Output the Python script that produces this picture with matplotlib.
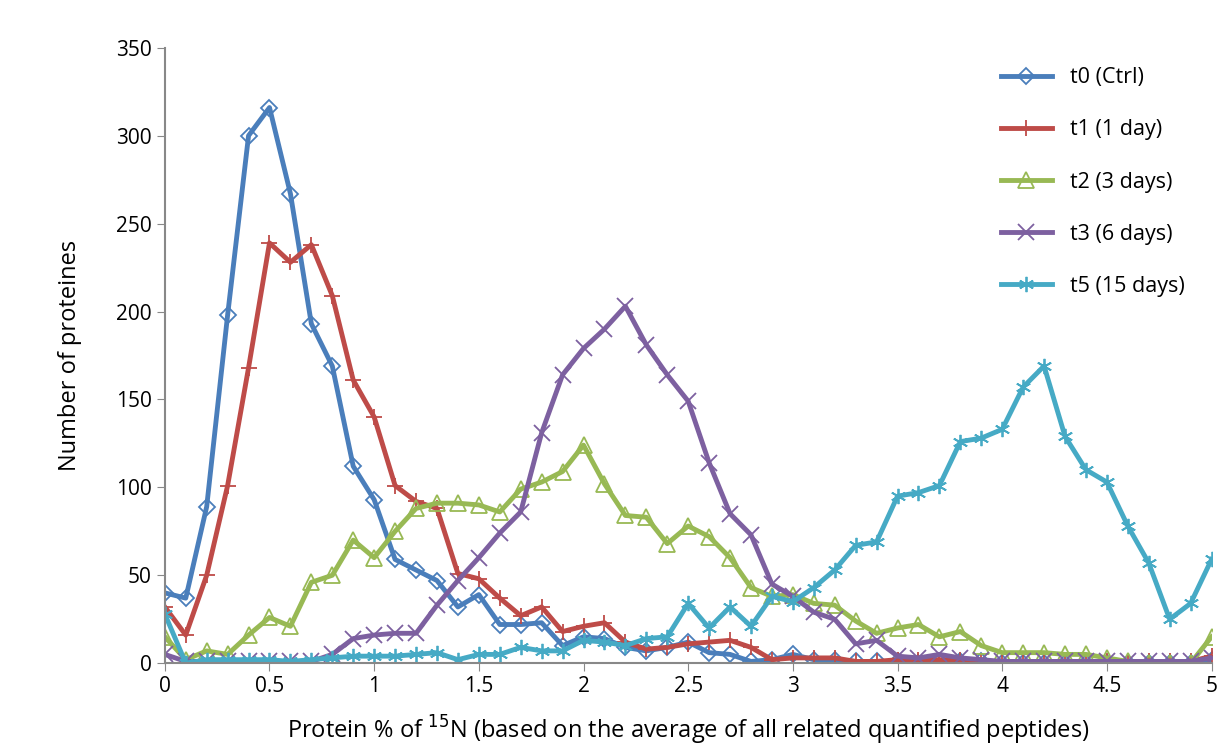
import numpy as np
import matplotlib.pyplot as plt

x = np.round(np.arange(0, 5.01, 0.1), 1)

t0 = [40, 37, 89, 198, 300, 316, 267, 193, 169, 112, 93, 59, 53, 47, 32, 39, 22, 22, 23, 10,
      15, 14, 9, 7, 9, 12, 6, 5, 1, 2, 5, 2, 2, 1, 1, 1, 0, 1, 1, 1, 0, 0, 0, 0, 0, 0, 0, 0, 0, 0, 2]
t1 = [32, 16, 50, 101, 168, 239, 228, 238, 209, 161, 140, 101, 92, 88, 51, 48, 37, 27, 32, 18,
      21, 23, 12, 8, 9, 11, 12, 13, 9, 2, 3, 3, 3, 1, 1, 2, 2, 2, 2, 1, 1, 1, 1, 1, 1, 1, 1, 1, 1, 1, 4]
t2 = [15, 2, 7, 5, 16, 26, 21, 46, 50, 70, 60, 75, 88, 91, 91, 90, 86, 99, 103, 109,
      124, 102, 84, 83, 68, 78, 72, 60, 43, 38, 39, 34, 33, 24, 17, 20, 22, 15, 18, 10,
      6, 6, 6, 5, 5, 3, 1, 0, 0, 0, 15]
t3 = [5, 1, 1, 1, 1, 1, 1, 1, 5, 14, 16, 17, 17, 33, 47, 60, 74, 86, 131, 164,
      179, 190, 203, 181, 164, 149, 114, 85, 73, 45, 38, 29, 25, 11, 13, 4, 3, 5, 3, 2,
      1, 1, 1, 1, 1, 1, 1, 1, 1, 1, 3]
t5 = [28, 0, 2, 2, 2, 2, 1, 2, 3, 4, 4, 4, 5, 6, 2, 5, 5, 9, 7, 7,
      13, 12, 10, 14, 15, 34, 20, 32, 21, 38, 35, 43, 53, 67, 69, 95, 97, 101, 126, 128,
      133, 157, 169, 129, 110, 103, 78, 57, 25, 34, 59]

series = [
    ("t0 (Ctrl)", t0, "#4a7ebb", "D"),
    ("t1 (1 day)", t1, "#be4b48", "+"),
    ("t2 (3 days)", t2, "#98b954", "^"),
    ("t3 (6 days)", t3, "#7d60a0", "x"),
    ("t5 (15 days)", t5, "#46aac5", (6, 2, 0)),
]

plt.rcParams['font.family'] = ['Open Sans', 'DejaVu Sans']
fig, ax = plt.subplots(figsize=(12.3, 7.46), dpi=100)
fig.subplots_adjust(left=0.134, right=0.985, top=0.936, bottom=0.111)

for label, vals, col, mk in series:
    filled = mk in ("+", "x") or isinstance(mk, tuple)
    ax.plot(x, vals, color=col, lw=3.5, marker=mk, ms=11 if mk != "D" else 8,
            mfc=col if filled else "none", mec=col, mew=1.3, label=label)

ax.set_xlim(0, 5)
ax.set_ylim(0, 350)
ax.set_xticks(np.arange(0, 5.01, 0.5))
ax.set_xticklabels(["0", "0.5", "1", "1.5", "2", "2.5", "3", "3.5", "4", "4.5", "5"])
ax.set_yticks(range(0, 351, 50))
ax.tick_params(labelsize=15, color="#888888", length=6)
for s in ["top", "right"]:
    ax.spines[s].set_visible(False)
for s in ["left", "bottom"]:
    ax.spines[s].set_color("#888888")
    ax.spines[s].set_linewidth(1.5)

ax.set_ylabel("Number of proteines", fontsize=17, labelpad=24)
ax.set_xlabel("Protein % of $^{15}$N (based on the average of all related quantified peptides)",
              fontsize=17, labelpad=12)

ax.legend(loc="upper left", bbox_to_anchor=(0.78, 1.0), frameon=False, fontsize=15.5,
          labelspacing=1.45, handlelength=2.4)

fig.savefig("out.png", dpi=100)
